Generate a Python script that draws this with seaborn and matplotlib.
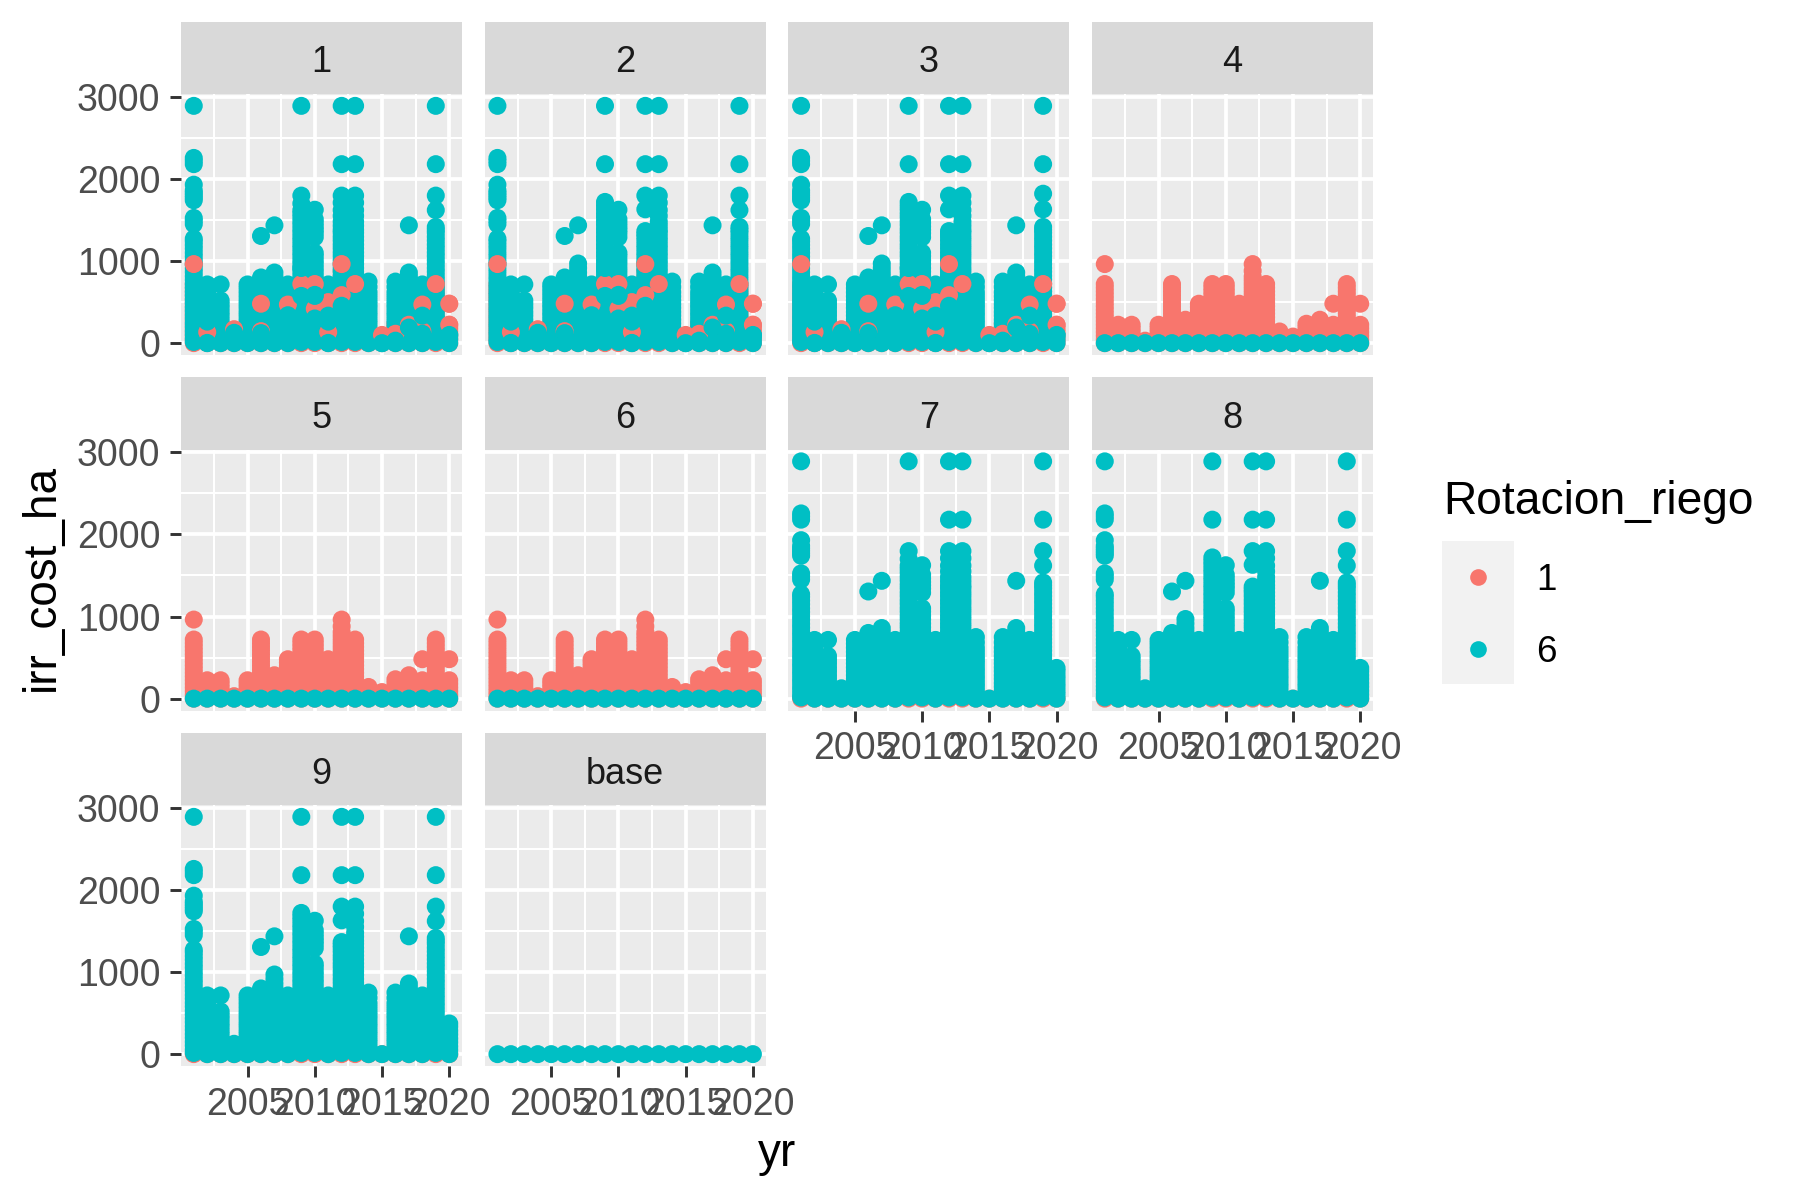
import matplotlib
matplotlib.use("Agg")
import matplotlib.pyplot as plt
from matplotlib.patches import Rectangle
from matplotlib.lines import Line2D
import pandas as pd
import seaborn as sns

years = list(range(2001, 2021))
panels = ["1", "2", "3", "4", "5", "6", "7", "8", "9", "base"]
rotation_colors = {1: "#F8766D", 6: "#00BFC4"}

# Rotation 6 columns: every value read per year from the picture
col_2001 = [15, 55, 105, 150, 200, 245, 295, 340, 390, 435, 485, 530, 580, 625, 675, 720, 770, 815, 865, 910, 960, 1005, 1055, 1100, 1150, 1195, 1240, 1272, 1450, 1490, 1525, 1740, 1770, 1800, 1830, 1860, 1930, 2180, 2220, 2256, 2890]
col_2002 = [0, 50, 95, 145, 190, 240, 285, 335, 380, 430, 475, 520, 570, 620, 670, 715]
col_2003 = [0, 50, 95, 145, 190, 240, 285, 335, 380, 430, 475, 520, 715]
col_2004 = [0, 40, 85, 126]
col_2005 = [0, 50, 95, 145, 190, 240, 285, 335, 380, 430, 475, 520, 570, 620, 670, 715]
col_2006 = [0, 50, 95, 145, 190, 240, 285, 335, 380, 430, 475, 520, 570, 620, 665, 710, 755, 800, 1305]
col_2007 = [0, 50, 95, 145, 190, 240, 285, 335, 380, 430, 475, 520, 570, 620, 665, 710, 755, 810, 860, 1435]
col_2008 = [0, 50, 95, 145, 190, 240, 285, 335, 380, 430, 475, 520, 570, 620, 670, 715]
col_2009 = [15, 60, 110, 155, 205, 250, 300, 345, 395, 440, 490, 535, 585, 630, 680, 725, 775, 820, 870, 915, 965, 1010, 1060, 1105, 1155, 1200, 1250, 1295, 1345, 1390, 1440, 1485, 1535, 1580, 1620, 1700, 1797, 2890]
col_2010 = [15, 60, 110, 155, 205, 250, 300, 345, 395, 440, 490, 535, 585, 630, 680, 725, 775, 820, 870, 915, 965, 1010, 1060, 1100, 1290, 1340, 1380, 1420, 1465, 1510, 1625]
col_2011 = [0, 50, 95, 145, 190, 240, 285, 335, 380, 430, 475, 520, 570, 620, 670, 715]
col_2012 = [15, 60, 110, 155, 205, 250, 300, 345, 395, 440, 490, 535, 585, 630, 680, 725, 775, 820, 870, 915, 965, 1010, 1060, 1105, 1155, 1200, 1250, 1295, 1345, 1380, 1430, 1480, 1550, 1620, 1710, 1797, 2180, 2890]
col_2013 = [15, 60, 110, 155, 205, 250, 300, 345, 395, 440, 490, 535, 585, 630, 680, 725, 775, 820, 870, 915, 965, 1010, 1060, 1105, 1155, 1200, 1250, 1295, 1345, 1380, 1430, 1480, 1550, 1620, 1710, 1797, 2180, 2890]
col_2014 = [0, 50, 95, 145, 190, 240, 285, 335, 380, 430, 475, 520, 570, 620, 685, 750]
col_2015 = [0]
col_2016 = [0, 50, 95, 145, 190, 240, 285, 335, 380, 430, 475, 520, 570, 620, 685, 750]
col_2017 = [0, 50, 95, 145, 190, 240, 285, 335, 380, 430, 475, 520, 570, 620, 665, 710, 755, 810, 860, 1435]
col_2018 = [0, 50, 95, 145, 190, 240, 285, 335, 380, 430, 475, 520, 570, 620, 670, 715]
col_2019 = [15, 60, 110, 155, 205, 250, 300, 345, 395, 440, 490, 535, 585, 630, 680, 725, 775, 820, 870, 915, 965, 1010, 1060, 1105, 1155, 1200, 1250, 1295, 1345, 1380, 1415, 1620, 1797, 2180, 2890]
col_2020 = [0, 50, 100]

# Rotation 6 columns that differ between panels
col_2007_alt = [0, 50, 95, 145, 190, 240, 285, 335, 380, 430, 475, 520, 570, 620, 665, 710, 755, 810, 860, 915, 970, 1435]
col_2009_alt = [15, 60, 110, 155, 205, 250, 300, 345, 395, 440, 490, 535, 585, 630, 680, 725, 775, 820, 870, 915, 965, 1010, 1060, 1105, 1155, 1200, 1250, 1295, 1345, 1390, 1440, 1485, 1535, 1580, 1630, 1675, 1720, 2180, 2890]
col_2012_alt = [15, 60, 110, 155, 205, 250, 300, 345, 395, 440, 490, 535, 585, 630, 680, 725, 775, 820, 870, 915, 965, 1010, 1060, 1105, 1155, 1200, 1250, 1295, 1330, 1365, 1630, 1797, 2180, 2890]
col_2019_p3 = [15, 60, 110, 155, 205, 250, 300, 345, 395, 440, 490, 535, 585, 630, 680, 725, 775, 820, 870, 915, 965, 1010, 1060, 1105, 1155, 1200, 1250, 1295, 1345, 1380, 1415, 1630, 1820, 2180, 2890]
col_2020_tall = [0, 50, 95, 145, 190, 240, 285, 335, 374]

# Rotation 1 columns
red_2001 = [0, 45, 90, 135, 180, 225, 270, 315, 360, 405, 450, 495, 540, 585, 630, 675, 720, 963]
red_2002 = [0, 45, 90, 135, 180, 224]
red_2003 = [0, 45, 90, 135, 180, 224]
red_2004 = [0, 30]
red_2005 = [0, 45, 90, 135, 180, 224]
red_2006 = [0, 45, 90, 135, 180, 225, 270, 315, 360, 405, 450, 495, 540, 585, 630, 675, 720]
red_2007 = [0, 45, 90, 140, 190, 240, 285]
red_2008 = [0, 45, 90, 140, 190, 240, 285, 340, 395, 440, 480]
red_2009 = [0, 45, 90, 135, 180, 225, 270, 315, 360, 405, 450, 495, 540, 585, 630, 675, 720]
red_2010 = [0, 45, 90, 135, 180, 225, 270, 315, 360, 405, 450, 495, 540, 585, 630, 675, 720]
red_2011 = [0, 45, 90, 140, 190, 240, 285, 340, 395, 440, 480]
red_2012 = [0, 45, 90, 135, 180, 225, 270, 315, 360, 405, 450, 495, 540, 585, 630, 675, 720, 765, 810, 880, 963]
red_2013 = [0, 45, 90, 135, 180, 225, 270, 315, 360, 405, 450, 495, 540, 585, 630, 675, 720]
red_2014 = [0, 45, 95, 142]
red_2015 = [0, 40, 80]
red_2016 = [0, 45, 90, 135, 190, 236]
red_2017 = [0, 45, 90, 140, 190, 240, 285]
red_2018 = [0, 45, 90, 135, 180, 224, 480]
red_2019 = [0, 45, 90, 135, 180, 225, 270, 315, 360, 405, 450, 495, 540, 585, 630, 675, 720]
red_2020 = [0, 45, 90, 135, 180, 224, 480]

# Rotation 1 points that show through the rotation 6 columns of panels 1-3
shown_yr = [2001, 2002, 2004, 2006, 2006, 2008, 2009, 2010, 2010, 2011, 2011, 2012, 2012, 2013, 2015, 2016, 2017, 2018, 2018, 2019, 2020, 2020]
shown_val = [963, 134, 170, 480, 146, 470, 720, 720, 419, 500, 134, 963, 585, 720, 100, 114, 224, 470, 146, 720, 480, 224]
# Rotation 6 points drawn after them
over_yr = [2002, 2002, 2004, 2006, 2008, 2009, 2009, 2010, 2010, 2010, 2011, 2011, 2011, 2012, 2015, 2016, 2017, 2018, 2018, 2020]
over_val = [262, 3, 126, 122, 340, 915, 575, 588, 575, 300, 335, 262, 3, 455, 0, 30, 190, 335, 114, 100]

teal_base = [col_2001, col_2002, col_2003, col_2004, col_2005, col_2006, col_2007, col_2008, col_2009, col_2010,
             col_2011, col_2012, col_2013, col_2014, col_2015, col_2016, col_2017, col_2018, col_2019, col_2020]
red_cols = [red_2001, red_2002, red_2003, red_2004, red_2005, red_2006, red_2007, red_2008, red_2009, red_2010,
            red_2011, red_2012, red_2013, red_2014, red_2015, red_2016, red_2017, red_2018, red_2019, red_2020]


def replace(cols, changes):
    out = list(cols)
    for yr, col in changes.items():
        out[years.index(yr)] = col
    return out


teal_p2 = replace(teal_base, {2007: col_2007_alt, 2009: col_2009_alt, 2012: col_2012_alt})
teal_p3 = replace(teal_p2, {2019: col_2019_p3})
teal_p7 = replace(teal_base, {2020: col_2020_tall})
teal_p8 = replace(teal_p2, {2020: col_2020_tall})

rows = []


def add_cols(panel, cols, rot):
    for yr, col in zip(years, cols):
        for v in col:
            rows.append((panel, yr, v, rot))


def add_pairs(panel, yrs, vals, rot):
    for yr, v in zip(yrs, vals):
        rows.append((panel, yr, v, rot))


for panel, teal in (("1", teal_base), ("2", teal_p2), ("3", teal_p3)):
    add_cols(panel, red_cols, 1)
    add_cols(panel, teal, 6)
    add_pairs(panel, shown_yr, shown_val, 1)
    add_pairs(panel, over_yr, over_val, 6)
for panel in ("4", "5", "6"):
    add_cols(panel, red_cols, 1)
    add_pairs(panel, years, [0] * len(years), 6)
for panel, teal in (("7", teal_p7), ("8", teal_p8), ("9", teal_p8)):
    add_pairs(panel, years, [0] * len(years), 1)
    add_cols(panel, teal, 6)
add_pairs("base", years, [0] * len(years), 6)

df = pd.DataFrame(rows, columns=["panel", "yr", "irr_cost_ha", "Rotacion_riego"])

sns.set_theme(style="darkgrid", rc={"axes.facecolor": "#EBEBEB", "grid.color": "white"})
plt.rcParams["font.family"] = ["Liberation Sans", "DejaVu Sans"]

W, H = 1800, 1200
g = sns.FacetGrid(df, col="panel", col_order=panels, col_wrap=4, sharex=True, sharey=True, despine=False)
g.map_dataframe(sns.scatterplot, x="yr", y="irr_cost_ha", hue="Rotacion_riego", palette=rotation_colors,
                s=168, linewidth=0, legend=False, zorder=3)
fig = g.figure
fig.set_size_inches(W / 100, H / 100)
pw, ph = 281, 261
fig.subplots_adjust(left=181 / W, right=1373 / W, top=1 - 94 / H, bottom=1 - 1066 / H,
                    wspace=(303.67 - pw) / pw, hspace=(355.5 - ph) / ph)
g.set_titles("")
g.set_axis_labels("", "")

for i, (ax, name) in enumerate(zip(g.axes.flat, panels)):
    ax.set_xlim(2000.05, 2020.95)
    ax.set_ylim(-144.5, 3034.5)
    ax.set_xticks([2005, 2010, 2015, 2020])
    ax.set_xticks([2002.5, 2007.5, 2012.5, 2017.5], minor=True)
    ax.set_yticks([0, 1000, 2000, 3000])
    ax.set_yticks([500, 1500, 2500], minor=True)
    ax.set_axisbelow(True)
    ax.grid(which="major", color="white", linewidth=2.7)
    ax.grid(which="minor", color="white", linewidth=1.5)
    for s in ax.spines.values():
        s.set_visible(False)
    show_x = i >= 6
    show_y = i % 4 == 0
    ax.tick_params(axis="x", which="major", length=8 if show_x else 0, width=2.1, color="#333333",
                   labelbottom=show_x, labelsize=27, labelcolor="#4D4D4D", pad=7, bottom=show_x)
    ax.tick_params(axis="y", which="major", length=8 if show_y else 0, width=2.1, color="#333333",
                   labelleft=show_y, labelsize=27, labelcolor="#4D4D4D", pad=7, left=show_y)
    ax.tick_params(which="minor", length=0)
    ax.add_patch(Rectangle((0, 1), 1, 72 / ph, transform=ax.transAxes, clip_on=False,
                           facecolor="#D9D9D9", edgecolor="none"))
    ax.text(0.5, 1 + 31 / ph, name, transform=ax.transAxes, ha="center", va="center",
            fontsize=26, color="#1A1A1A")

fig.text(42 / W, 1 - 577 / H, "irr_cost_ha", rotation=90, ha="center", va="center", fontsize=33, color="black")
fig.text(777 / W, 1 - 1154 / H, "yr", ha="center", va="center", fontsize=33, color="black")

# Legend
fig.text(1443 / W, 1 - 502 / H, "Rotacion_riego", ha="left", va="center", fontsize=33.2, color="black")
fig.add_artist(Rectangle((1442 / W, 1 - 684 / H), 72 / W, 143 / H, transform=fig.transFigure,
                         facecolor="#F2F2F2", edgecolor="none"))
for rot, y in zip(rotation_colors, (577, 649)):
    fig.add_artist(Line2D([1478 / W], [1 - y / H], transform=fig.transFigure, marker="o", markersize=12,
                          markerfacecolor=rotation_colors[rot], markeredgewidth=0, linestyle="none"))
    fig.text(1536 / W, 1 - (y + 4) / H, str(rot), ha="left", va="center", fontsize=26.5, color="black")

fig.savefig("out.png", dpi=100, facecolor="white")
